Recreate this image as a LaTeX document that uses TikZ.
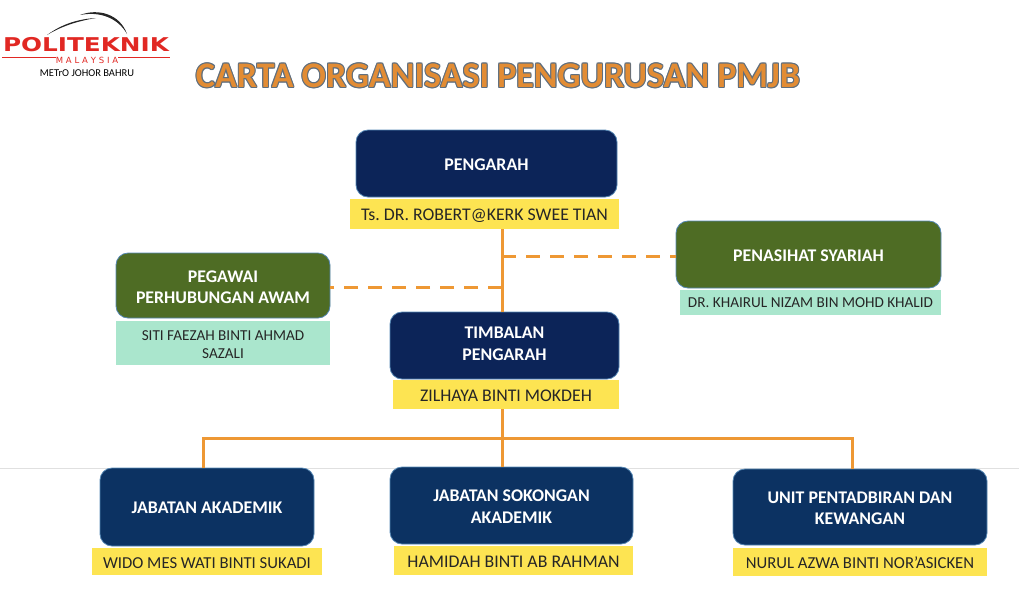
\documentclass[tikz,border=0pt]{standalone}
\usepackage{fontspec}
\setmainfont{Carlito}
\newfontfamily\logofont{DejaVu Sans}
\usepackage{xcolor}
\usetikzlibrary{positioning, calc}
\definecolor{navyblue}{RGB}{12,36,88}
\definecolor{deptblue}{RGB}{12,50,98}
\definecolor{edgeblue}{RGB}{85,135,180}
\definecolor{baryellow}{RGB}{253,228,82}
\definecolor{barteal}{RGB}{170,230,205}
\definecolor{oliveboss}{RGB}{78,108,36}
\definecolor{lineorange}{RGB}{238,152,52}
\definecolor{titlefill}{RGB}{226,140,52}
\definecolor{titleedge}{RGB}{95,110,125}
\definecolor{logored}{RGB}{225,40,35}
\tikzset{
    headbox/.style={draw=edgeblue, line width=0.8pt, fill=navyblue, rounded corners=12pt, text=white, align=center,
        inner sep=0pt, font=\fontsize{17.8}{21.5}\selectfont\bfseries},
    deptbox/.style={headbox, fill=deptblue},
    greenbox/.style={headbox, fill=oliveboss},
    namebar/.style={fill=baryellow, text=black!85, align=center, inner sep=0pt, font=\fontsize{17.8}{22}\selectfont},
    tealbar/.style={namebar, fill=barteal, font=\fontsize{15.2}{18}\selectfont},
    smallbar/.style={namebar, font=\fontsize{16.7}{22}\selectfont},
    orgline/.style={lineorange, line width=3pt},
    adviseline/.style={orgline, dash pattern=on 14pt off 10pt},
    titletext/.style={inner sep=0pt, font=\fontsize{36}{40}\selectfont\bfseries},
}
% Struts that set how far a label sits below the middle of its box
\newcommand{\headlift}[1]{\rule{0pt}{#1}}
\newcommand{\barlift}{\rule[-3pt]{0pt}{19.4pt}}
\begin{document}
\frenchspacing
\begin{tikzpicture}[x=1pt, y=-1pt]
    \useasboundingbox (0,0) rectangle (1019,590);
    % Faint scan line
    \draw[black!12, line width=0.8pt] (0,468) -- (1019,468);

    % Title
    \foreach \dx/\dy [count=\k] in {-1/0,1/0,0/-1,0/1,-0.8/-0.8,0.8/-0.8,-0.8/0.8,0.8/0.8} {
        \node[titletext, name=shade\k, text=titleedge] at (498+\dx,76+\dy) {CARTA ORGANISASI PENGURUSAN PMJB};
    }
    \node[titletext, name=title, text=titlefill] at (498,76) {CARTA ORGANISASI PENGURUSAN PMJB};

    % Logo
    \fill[black!85] (47,35) .. controls (62,24) and (78,19) .. (96,18) .. controls (78,21) and (62,26) .. (47,35);
    \fill[black!85] (80,15) .. controls (98,8) and (120,14) .. (127,34) .. controls (118,18) and (100,11) .. (80,15);
    \node[name=logotext, transform shape, xscale=1.3, text=logored, inner sep=0pt, font=\fontsize{19}{20}\logofont\bfseries] at (86,45) {POLITEKNIK};
    \node[name=logomalaysia, text=logored, inner sep=0pt, font=\fontsize{8.5}{9}\logofont] at (87,60.5) {M\,\,A\,\,L\,\,A\,\,Y\,\,S\,\,I\,\,A};
    \draw[logored, line width=1.6pt] (2,57.5) -- (logomalaysia.west |- 0,57.5);
    \draw[logored, line width=1.6pt] (logomalaysia.east |- 0,57.5) -- (170,57.5);
    \node[name=logocampus, text=black, inner sep=0pt, font=\fontsize{10.5}{12}\selectfont] at (87,73.5) {METrO JOHOR BAHRU};

    % Top of the chart
    \node[headbox, minimum width=261pt, minimum height=67pt] (pengarah) at (486.5,163.5) {\headlift{13.5pt}PENGARAH};
    \node[namebar, minimum width=269pt, minimum height=30pt] (namapengarah) at (484.5,214) {\barlift Ts. DR. ROBERT@KERK SWEE TIAN};

    \node[greenbox, minimum width=265pt, minimum height=67pt] (penasihat) at (808.5,254.5) {\headlift{13.5pt}PENASIHAT SYARIAH};
    \node[tealbar, minimum width=261pt, minimum height=25pt] (namapenasihat) at (810.5,302.5) {\rule[-3pt]{0pt}{16.8pt}DR. KHAIRUL NIZAM BIN MOHD KHALID};

    \node[greenbox, minimum width=214pt, minimum height=65pt] (pegawai) at (223,285.5) {\headlift{15pt}PEGAWAI\\PERHUBUNGAN AWAM};
    \node[tealbar, minimum width=214pt, minimum height=44pt] (namapegawai) at (223,343) {\headlift{12.8pt}SITI FAEZAH BINTI AHMAD\\SAZALI};

    \node[headbox, minimum width=229pt, minimum height=67pt] (timbalan) at (504.5,345.5) {TIMBALAN\\PENGARAH\rule[-4pt]{0pt}{0pt}};
    \node[namebar, minimum width=226pt, minimum height=29pt] (namatimbalan) at (506,394.5) {\barlift ZILHAYA BINTI MOKDEH};

    % Departments
    \node[deptbox, minimum width=214pt, minimum height=78pt] (akademik) at (207,507) {\headlift{13.5pt}JABATAN AKADEMIK};
    \node[smallbar, minimum width=230pt, minimum height=27pt] (namaakademik) at (207,561.5) {\barlift WIDO MES WATI BINTI SUKADI};

    \node[deptbox, minimum width=243pt, minimum height=77pt] (sokongan) at (511.5,505.5) {\headlift{13.5pt}JABATAN SOKONGAN\\AKADEMIK};
    \node[namebar, minimum width=239pt, minimum height=29pt] (namasokongan) at (513.5,560.5) {\barlift HAMIDAH BINTI AB RAHMAN};

    \node[deptbox, minimum width=254pt, minimum height=76pt] (unit) at (860,507) {\headlift{14.5pt}UNIT PENTADBIRAN DAN\\KEWANGAN};
    \node[smallbar, minimum width=254pt, minimum height=28pt] (namaunit) at (860,562) {\barlift NURUL AZWA BINTI NOR'ASICKEN};

    % Connectors
    \coordinate (trunk) at (502,300);
    \coordinate (busleft) at (203,438);
    \coordinate (busright) at (852,438);
    \coordinate (tapright) at ([yshift=-1.5pt]penasihat.west);
    \coordinate (tapleft) at ([yshift=-1.5pt]pegawai.east);
    \draw[orgline] (namapengarah.south -| trunk) -- (timbalan.north -| trunk);
    \draw[orgline] (namatimbalan.south -| trunk) -- (sokongan.north -| trunk);
    \draw[orgline] (busleft |- akademik.north) -- (busleft) -- (busright) -- (busright |- unit.north);
    \draw[adviseline] (trunk |- tapright) -- (tapright);
    \draw[adviseline] (trunk |- tapleft) -- (tapleft);
\end{tikzpicture}
\end{document}
